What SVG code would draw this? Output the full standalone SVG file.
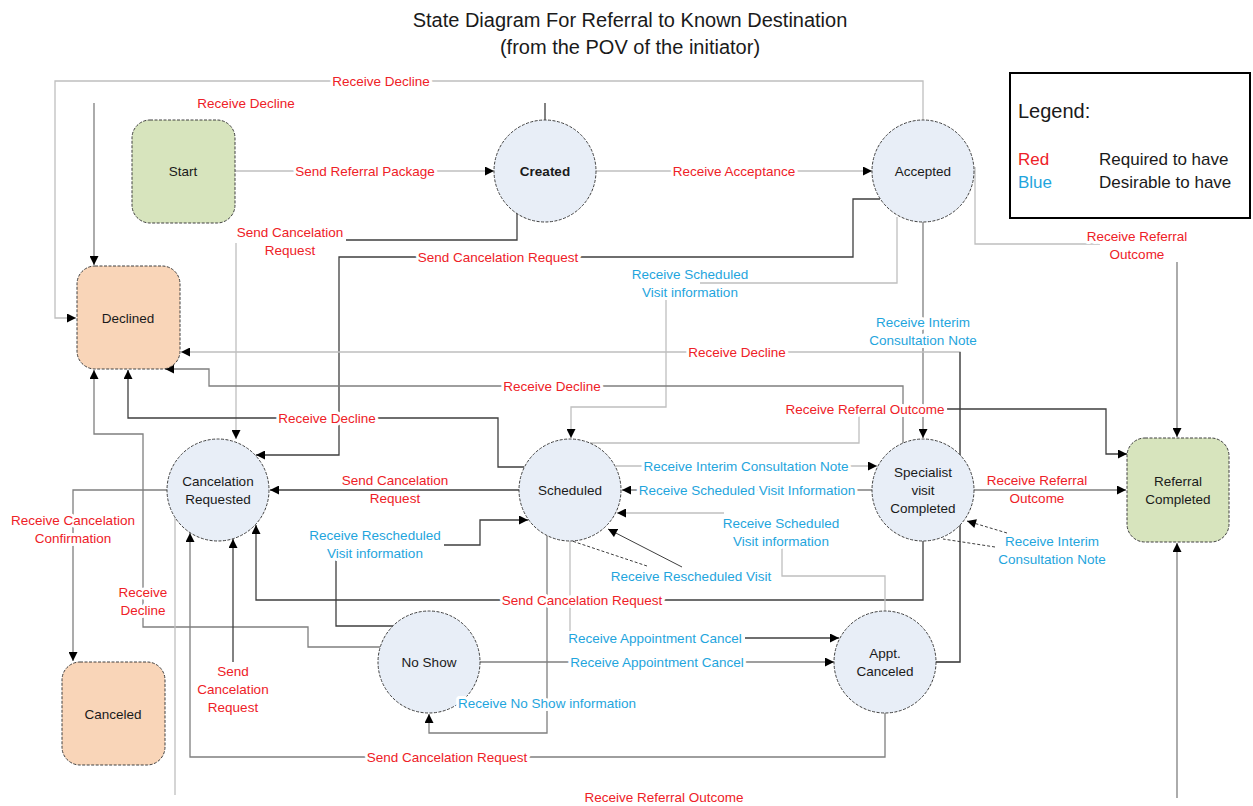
<svg xmlns="http://www.w3.org/2000/svg" width="1253" height="806" viewBox="0 0 1253 806">
<style>
  .bg { fill: #ffffff; }
  .d { fill: none; stroke: #3f3f3f; stroke-width: 1.3; }
  .m { fill: none; stroke: #7f7f7f; stroke-width: 1.3; }
  .l { fill: none; stroke: #bfbfbf; stroke-width: 1.3; }
  .ds { fill: none; stroke: #3f3f3f; stroke-width: 1; stroke-dasharray: 3 2; }
  .th { fill: none; stroke: #3f3f3f; stroke-width: 1; }
  .arr { marker-end: url(#ah); }
  .circ { fill: #e8eef7; stroke: #404040; stroke-width: 1; stroke-dasharray: 3 1.5; }
  .green { fill: #d7e4bd; stroke: #404040; stroke-width: 1; stroke-dasharray: 3 1.5; }
  .peach { fill: #f9d5b8; stroke: #404040; stroke-width: 1; stroke-dasharray: 3 1.5; }
  text { font-family: "Liberation Sans", Arial, sans-serif; }
  .nt { font-size: 13.5px; fill: #1a1a1a; text-anchor: middle; dominant-baseline: central; }
  .lab { font-size: 13.5px; text-anchor: middle; dominant-baseline: central; paint-order: stroke; stroke: #ffffff; stroke-width: 6; stroke-linejoin: round; }
  .r { fill: #ee2127; }
  .b { fill: #1fa5dd; }
  .title { font-size: 20px; fill: #1a1a1a; text-anchor: middle; dominant-baseline: central; }
  .leg { font-size: 17px; dominant-baseline: central; }
</style>
<defs>
  <marker id="ah" viewBox="0 0 10 10" refX="10" refY="5" markerWidth="10" markerHeight="9" markerUnits="userSpaceOnUse" orient="auto">
    <path d="M0,0 L10,5 L0,10 z" fill="#000000"/>
  </marker>
</defs>
<rect class="bg" x="0" y="0" width="1253" height="806"/>

<g id="title">
  <text class="title" x="630" y="20">State Diagram For Referral to Known Destination</text>
  <text class="title" x="630" y="47">(from the POV of the initiator)</text>
</g>

<g id="connectors">
  <!-- Start -> Created -->
  <path class="l arr" d="M235,171 H494"/>
  <!-- Created -> Accepted -->
  <path class="l arr" d="M596,171 H872"/>
  <!-- Accepted -> Declined (top) -->
  <path class="l arr" d="M923,120 V81 H55 V318 H76"/>
  <!-- Created -> Declined -->
  <path class="d" d="M545,120 V103"/>
  <path class="m arr" d="M94,103 V265"/>
  <!-- Created -> Cancelation Requested -->
  <path class="d" d="M517,212 V240 H346"/>
  <path class="l arr" d="M236,243 V439"/>
  <!-- Accepted -> Cancelation Requested -->
  <path class="d arr" d="M880,199 H853 V257 H339 V455 H256"/>
  <!-- Accepted -> Scheduled -->
  <path class="l" d="M897,217 V283 H700"/>
  <path class="l arr" d="M666,300 V407 H571 V438"/>
  <!-- Accepted -> Specialist visit Completed -->
  <path class="m arr" d="M923,222 V438"/>
  <!-- Accepted -> Referral Completed -->
  <path class="l" d="M975,167 V244 H1100"/>
  <path class="m arr" d="M1177,262 V437"/>
  <!-- Appt. Canceled -> Declined -->
  <path class="l arr" d="M936,662 H960 V352 H181"/>
  <path class="d" d="M936,662 H960 V352"/>
  <!-- Specialist -> Declined -->
  <path class="m arr" d="M903,443 V386 H209 V369 H165"/>
  <!-- Scheduled -> Declined -->
  <path class="d arr" d="M524,467 H498 V418 H128 V370"/>
  <!-- No Show -> Declined -->
  <path class="m arr" d="M380,647 H308 V627 H143 V434 H94 V370"/>
  <!-- Cancelation Requested -> Canceled -->
  <path class="m arr" d="M167,490 H73 V661"/>
  <!-- Scheduled -> Cancelation Requested -->
  <path class="d arr" d="M519,490 H270"/>
  <!-- Specialist -> Cancelation Requested -->
  <path class="d arr" d="M923,541 V600 H256 V525"/>
  <!-- Appt. Canceled -> Cancelation Requested -->
  <path class="m arr" d="M885,713 V757 H190 V533"/>
  <!-- No Show -> Cancelation Requested -->
  <path class="d arr" d="M233,662 V539"/>
  <!-- Cancelation Requested -> Referral Completed (bottom) -->
  <path class="l" d="M175,518 V795"/>
  <path class="m arr" d="M1177,798 V543"/>
  <!-- Scheduled -> Specialist -->
  <path class="l arr" d="M616,466 H877"/>
  <!-- Specialist -> Scheduled -->
  <path class="m arr" d="M872,490 H622"/>
  <!-- Scheduled -> Referral Completed -->
  <path class="l" d="M590,443 H859 V416"/>
  <path class="d arr" d="M947,409 H1106 V454 H1127"/>
  <!-- Specialist -> Referral Completed -->
  <path class="m arr" d="M974,490 H1126"/>
  <!-- Interim consultation note (self) -->
  <path class="ds arr" d="M1007,533 L967,521"/>
  <path class="ds" d="M995,547 L943,539"/>
  <!-- Rescheduled visit (self) -->
  <path class="th arr" d="M682,567 L608,529"/>
  <path class="ds" d="M647,566 L572,541"/>
  <!-- Appt. Canceled -> Scheduled -->
  <path class="l" d="M885,611 V576 H782 V548"/>
  <path class="l arr" d="M724,513 H617"/>
  <!-- Scheduled -> Appt. Canceled -->
  <path class="l" d="M570,541 V632"/>
  <path class="d arr" d="M745,638 H839"/>
  <!-- No Show -> Appt. Canceled -->
  <path class="m arr" d="M480,662 H834"/>
  <!-- Scheduled -> No Show -->
  <path class="m arr" d="M547,536 V733 H429 V714"/>
  <!-- No Show -> Scheduled -->
  <path class="d" d="M393,626 H336 V560"/>
  <path class="d arr" d="M444,545 H480 V520 H528"/>
</g>

<g id="node-start">
  <rect class="green" x="132" y="120" width="103" height="103" rx="18"/>
  <text class="nt" x="183" y="171">Start</text>
</g>
<g id="node-created">
  <circle class="circ" cx="545" cy="171" r="51"/>
  <text class="nt" x="545" y="171" font-weight="bold">Created</text>
</g>
<g id="node-accepted">
  <circle class="circ" cx="923" cy="171" r="51"/>
  <text class="nt" x="923" y="171">Accepted</text>
</g>
<g id="node-declined">
  <rect class="peach" x="77" y="266" width="103" height="103" rx="18"/>
  <text class="nt" x="128" y="318">Declined</text>
</g>
<g id="node-cancelation-requested">
  <circle class="circ" cx="218" cy="490" r="51"/>
  <text class="nt" x="218" y="481">Cancelation</text>
  <text class="nt" x="218" y="499">Requested</text>
</g>
<g id="node-scheduled">
  <circle class="circ" cx="570" cy="490" r="51"/>
  <text class="nt" x="570" y="490">Scheduled</text>
</g>
<g id="node-specialist">
  <circle class="circ" cx="923" cy="490" r="51"/>
  <text class="nt" x="923" y="472">Specialist</text>
  <text class="nt" x="923" y="490">visit</text>
  <text class="nt" x="923" y="508">Completed</text>
</g>
<g id="node-referral-completed">
  <rect class="green" x="1127" y="438" width="102" height="104" rx="18"/>
  <text class="nt" x="1178" y="481">Referral</text>
  <text class="nt" x="1178" y="499">Completed</text>
</g>
<g id="node-no-show">
  <circle class="circ" cx="429" cy="662" r="51"/>
  <text class="nt" x="429" y="662">No Show</text>
</g>
<g id="node-appt-canceled">
  <circle class="circ" cx="885" cy="662" r="51"/>
  <text class="nt" x="885" y="653">Appt.</text>
  <text class="nt" x="885" y="671">Canceled</text>
</g>
<g id="node-canceled">
  <rect class="peach" x="62" y="662" width="103" height="103" rx="18"/>
  <text class="nt" x="113" y="714">Canceled</text>
</g>

<g id="connector-labels">
  <text class="lab r" x="381" y="81">Receive Decline</text>
  <text class="lab r" x="246" y="103">Receive Decline</text>
  <text class="lab r" x="365" y="171">Send Referral Package</text>
  <text class="lab r" x="734" y="171">Receive Acceptance</text>
  <text class="lab r" x="290" y="232">Send Cancelation</text>
  <text class="lab r" x="290" y="250">Request</text>
  <text class="lab r" x="498" y="257">Send Cancelation Request</text>
  <text class="lab b" x="690" y="274">Receive Scheduled</text>
  <text class="lab b" x="690" y="292">Visit information</text>
  <text class="lab r" x="1137" y="236">Receive Referral</text>
  <text class="lab r" x="1137" y="254">Outcome</text>
  <text class="lab b" x="923" y="322">Receive Interim</text>
  <text class="lab b" x="923" y="340">Consultation Note</text>
  <text class="lab r" x="737" y="352">Receive Decline</text>
  <text class="lab r" x="552" y="386">Receive Decline</text>
  <text class="lab r" x="865" y="409">Receive Referral Outcome</text>
  <text class="lab r" x="327" y="418">Receive Decline</text>
  <text class="lab b" x="746" y="466">Receive Interim Consultation Note</text>
  <text class="lab r" x="395" y="480">Send Cancelation</text>
  <text class="lab r" x="395" y="498">Request</text>
  <text class="lab b" x="747" y="490">Receive Scheduled Visit Information</text>
  <text class="lab r" x="1037" y="480">Receive Referral</text>
  <text class="lab r" x="1037" y="498">Outcome</text>
  <text class="lab r" x="73" y="520">Receive Cancelation</text>
  <text class="lab r" x="73" y="538">Confirmation</text>
  <text class="lab b" x="375" y="535">Receive Rescheduled</text>
  <text class="lab b" x="375" y="553">Visit information</text>
  <text class="lab b" x="781" y="523">Receive Scheduled</text>
  <text class="lab b" x="781" y="541">Visit information</text>
  <text class="lab b" x="1052" y="541">Receive Interim</text>
  <text class="lab b" x="1052" y="559">Consultation Note</text>
  <text class="lab b" x="691" y="576">Receive Rescheduled Visit</text>
  <text class="lab r" x="143" y="592">Receive</text>
  <text class="lab r" x="143" y="610">Decline</text>
  <text class="lab r" x="582" y="600">Send Cancelation Request</text>
  <text class="lab b" x="655" y="638">Receive Appointment Cancel</text>
  <text class="lab b" x="657" y="662">Receive Appointment Cancel</text>
  <text class="lab r" x="233" y="671">Send</text>
  <text class="lab r" x="233" y="689">Cancelation</text>
  <text class="lab r" x="233" y="707">Request</text>
  <text class="lab b" x="547" y="703">Receive No Show information</text>
  <text class="lab r" x="447" y="757">Send Cancelation Request</text>
  <text class="lab r" x="664" y="797">Receive Referral Outcome</text>
</g>

<g id="legend">
  <rect x="1010" y="73" width="240" height="145" fill="#ffffff" stroke="#000000" stroke-width="2"/>
  <text class="leg" x="1018" y="111" style="font-size:20px" fill="#1a1a1a">Legend:</text>
  <text class="leg" x="1018" y="159" fill="#ee2127">Red</text>
  <text class="leg" x="1099" y="159" fill="#1a1a1a">Required to have</text>
  <text class="leg" x="1018" y="182" fill="#1fa5dd">Blue</text>
  <text class="leg" x="1099" y="182" fill="#1a1a1a">Desirable to have</text>
</g>
</svg>
